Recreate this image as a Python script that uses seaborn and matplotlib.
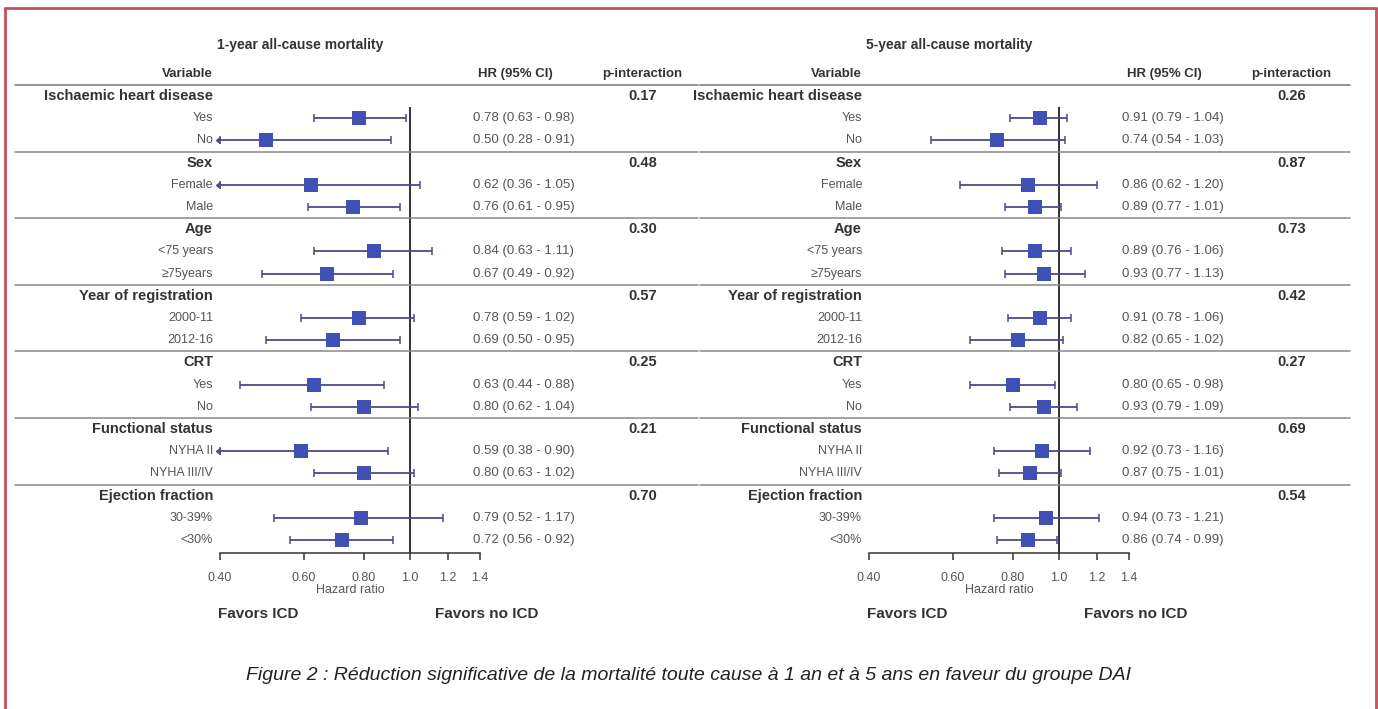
import matplotlib
matplotlib.use("Agg")
import matplotlib.pyplot as plt
import matplotlib.transforms as mtransforms
from matplotlib.lines import Line2D
from matplotlib.ticker import FixedLocator, FixedFormatter, NullLocator
import seaborn as sns
import pandas as pd

sns.set_theme(style="white")
plt.rcParams['font.family'] = ['Liberation Sans', 'DejaVu Sans']

# subgroup definitions
groups = ["Ischaemic heart disease", "Sex", "Age", "Year of registration",
          "CRT", "Functional status", "Ejection fraction"]
subgroups = [["Yes", "No"], ["Female", "Male"], ["<75 years", "≥75years"],
             ["2000-11", "2012-16"], ["Yes", "No"], ["NYHA II", "NYHA III/IV"],
             ["30-39%", "<30%"]]

# 1-year all-cause mortality
hr_1y = [0.78, 0.50, 0.62, 0.76, 0.84, 0.67, 0.78, 0.69, 0.63, 0.80, 0.59, 0.80, 0.79, 0.72]
lo_1y = [0.63, 0.28, 0.36, 0.61, 0.63, 0.49, 0.59, 0.50, 0.44, 0.62, 0.38, 0.63, 0.52, 0.56]
hi_1y = [0.98, 0.91, 1.05, 0.95, 1.11, 0.92, 1.02, 0.95, 0.88, 1.04, 0.90, 1.02, 1.17, 0.92]
p_1y = ["0.17", "0.48", "0.30", "0.57", "0.25", "0.21", "0.70"]

# 5-year all-cause mortality
hr_5y = [0.91, 0.74, 0.86, 0.89, 0.89, 0.93, 0.91, 0.82, 0.80, 0.93, 0.92, 0.87, 0.94, 0.86]
lo_5y = [0.79, 0.54, 0.62, 0.77, 0.76, 0.77, 0.78, 0.65, 0.65, 0.79, 0.73, 0.75, 0.73, 0.74]
hi_5y = [1.04, 1.03, 1.20, 1.01, 1.06, 1.13, 1.06, 1.02, 0.98, 1.09, 1.16, 1.01, 1.21, 0.99]
p_5y = ["0.26", "0.87", "0.73", "0.42", "0.27", "0.69", "0.54"]

ticks = [0.4, 0.6, 0.8, 1.0, 1.2, 1.4]
tick_labels = ["0.40", "0.60", "0.80", "1.0", "1.2", "1.4"]

W, H = 1378, 709
X_MIN, X_MAX = 0.4, 1.4
ROW0, PITCH = 96, 22.2          # pixel row of first group and row spacing
AX_TOP, AX_BOT = 74, 553

SQ = "#3f51b5"
CI = "#4a4a8c"
DARK = "#333333"
GREY = "#555555"

fig = plt.figure(figsize=(W / 100, H / 100), dpi=100)


def fx(px):
    return px / W


def fy(px):
    return 1 - px / H


def draw_panel(x0, title, hr, lo, hi, pvals, line_span):
    ax = fig.add_axes([fx(x0), fy(AX_BOT), 260 / W, (AX_BOT - AX_TOP) / H])
    blend = mtransforms.blended_transform_factory(fig.transFigure, ax.transData)

    rows, labels = [], []
    for g, subs in enumerate(subgroups):
        for k, s in enumerate(subs):
            rows.append(3 * g + k + 1)
            labels.append(s)
    lo_clip = [max(v, X_MIN) for v in lo]

    df = pd.DataFrame({"hr": hr, "row": rows})
    ax.set_xscale("log")
    eb = ax.errorbar(hr, rows,
                     xerr=[[h - l for h, l in zip(hr, lo_clip)],
                           [u - h for h, u in zip(hr, hi)]],
                     fmt="none", ecolor=CI, elinewidth=1.3, capsize=3, capthick=1.1,
                     zorder=2)
    for art in eb.get_children():
        art.set_clip_on(False)
    clipped = [r for r, l in zip(rows, lo) if l < X_MIN]
    ax.plot([X_MIN] * len(clipped), clipped, marker=8, ls="none", ms=4,
            color=CI, clip_on=False, zorder=2)
    sns.scatterplot(data=df, x="hr", y="row", marker="s", s=105, color=SQ,
                    linewidth=0, ax=ax, zorder=3, legend=False, clip_on=False)

    bottom_row = (AX_BOT - ROW0) / PITCH
    top_row = (AX_TOP - ROW0) / PITCH
    ax.vlines(1.0, 0.5, bottom_row, color="#222222", lw=1.3, zorder=1)

    ax.set_xlim(X_MIN, X_MAX)
    ax.set_ylim(bottom_row, top_row)
    ax.xaxis.set_major_locator(FixedLocator(ticks))
    ax.xaxis.set_major_formatter(FixedFormatter(tick_labels))
    ax.xaxis.set_minor_locator(NullLocator())
    ax.set_yticks([])
    ax.set_xlabel("")
    ax.set_ylabel("")
    for side in ["top", "right", "left"]:
        ax.spines[side].set_visible(False)
    ax.spines["bottom"].set_color(DARK)
    ax.spines["bottom"].set_linewidth(1.1)
    ax.tick_params(axis="x", direction="out", length=5, width=1.1, color=DARK,
                   labelsize=9, labelcolor=GREY, pad=9, bottom=True)
    ax.patch.set_alpha(0)

    # header
    fig.text(fx(x0 + 80), fy(45), title, ha="center", va="center",
             fontsize=10, fontweight="bold", color=DARK)
    ax.text(fx(x0 - 7), -1, "Variable", transform=blend, ha="right", va="center",
            fontsize=9.5, fontweight="bold", color=DARK)
    ax.text(fx(x0 + 295), -1, "HR (95% CI)", transform=blend, ha="center",
            va="center", fontsize=9.5, fontweight="bold", color=DARK)
    ax.text(fx(x0 + 422), -1, "p-interaction", transform=blend, ha="center",
            va="center", fontsize=9.5, fontweight="bold", color=DARK)

    seps = [-0.5] + [3 * g + 2.5 for g in range(len(groups) - 1)]
    for sy in seps:
        ax.plot([fx(line_span[0]), fx(line_span[1])], [sy, sy], transform=blend,
                color="#888888", lw=1.3 if sy < 0 else 1.1, clip_on=False)

    for g, name in enumerate(groups):
        ax.text(fx(x0 - 7), 3 * g, name, transform=blend, ha="right", va="center",
                fontsize=10.5, fontweight="bold", color=DARK)
        ax.text(fx(x0 + 423), 3 * g, pvals[g], transform=blend, ha="center",
                va="center", fontsize=10.5, fontweight="bold", color=DARK)

    for r, lab, h, l, u in zip(rows, labels, hr, lo, hi):
        ax.text(fx(x0 - 7), r, lab, transform=blend, ha="right", va="center",
                fontsize=9, color=GREY)
        ax.text(fx(x0 + 253), r, f"{h:.2f} ({l:.2f} - {u:.2f})", transform=blend,
                ha="left", va="center", fontsize=9.5, color=GREY)

    # footer
    fig.text(fx(x0 + 130), fy(590), "Hazard ratio", ha="center", va="center",
             fontsize=9, color=GREY)
    fig.text(fx(x0 + 38), fy(614), "Favors ICD", ha="center", va="center",
             fontsize=11, fontweight="bold", color=DARK)
    fig.text(fx(x0 + 267), fy(614), "Favors no ICD", ha="center", va="center",
             fontsize=11, fontweight="bold", color=DARK)
    return ax


draw_panel(220, "1-year all-cause mortality", hr_1y, lo_1y, hi_1y, p_1y, (15, 698))
draw_panel(869, "5-year all-cause mortality", hr_5y, lo_5y, hi_5y, p_5y, (700, 1350))

fig.text(0.5, fy(675),
         "Figure 2 : Réduction significative de la mortalité toute cause à 1 an et à 5 ans en faveur du groupe DAI",
         ha="center", va="center", fontsize=14, style="italic", color="#222222")

# red frame around the figure
red = "#c4505a"
fig.add_artist(Line2D([fx(5), fx(1376)], [fy(8), fy(8)], color=red, lw=2))
fig.add_artist(Line2D([fx(5), fx(5)], [fy(8), 0], color=red, lw=2))
fig.add_artist(Line2D([fx(1376), fx(1376)], [fy(8), 0], color=red, lw=2))

fig.savefig("out.png", dpi=100)
